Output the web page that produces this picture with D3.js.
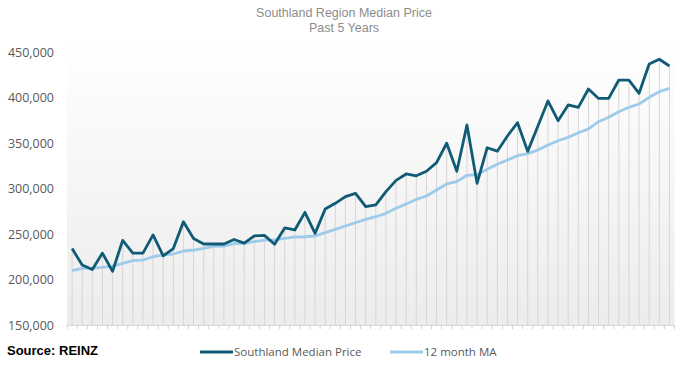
<!DOCTYPE html>
<html>
<head>
<meta charset="utf-8">
<style>
body { margin: 0; background: #fff; }
svg { display: block; }
.title { font: 12.5px "Liberation Sans", Arial, sans-serif; fill: #8c8c8c; }
.axis text { font: 12.5px "Open Sans", sans-serif; fill: #595959; }
.legend text { font: 11.5px "Open Sans", sans-serif; fill: #595959; }
</style>
</head>
<body>
<script src="https://cdn.jsdelivr.net/npm/d3@7/dist/d3.min.js"></script>
<script>
// monthly values, 60 months
const median = [234, 216, 211, 229, 209, 243, 229, 229, 249, 226,
                234, 263.5, 245, 239, 239, 239, 244, 240, 248, 248.5,
                238.7, 256.6, 254.4, 273.8, 250.7, 277.5, 283.7, 291, 294.7, 280,
                282, 296.5, 309, 316, 314, 319, 328.4, 349.7, 319, 369.8,
                305.7, 344.8, 341, 357.7, 372.3, 340.8, 368.3, 396.2, 374.5, 391.8,
                389.2, 409.3, 399, 399, 419.2, 419.2, 404.6, 436.8, 442, 434.6];
const movingAvg = [209.7, 212.3, 212.5, 213.4, 214.8, 217.8, 220.7, 221.4, 225, 227,
                   228, 231.3, 232.4, 234.3, 236.4, 236.8, 239.4, 239.8, 241.5, 243.2,
                   243.6, 245.2, 246.7, 247, 247.8, 251.5, 255.1, 258.8, 262.4, 266.1,
                   269, 272.7, 278.2, 283, 288.1, 291.8, 298.4, 305, 307.5, 314.5,
                   315.2, 321.1, 326.6, 331.3, 336, 338.3, 342.3, 347.8, 352.5, 356.2,
                   361.3, 365.4, 373.4, 378.2, 384.4, 389.2, 392.9, 400.2, 406.4, 410.1];
const yTicks = [150000, 200000, 250000, 300000, 350000, 400000, 450000];
const titleLines = ["Southland Region Median Price", "Past 5 Years"];
const seriesNames = ["Southland Median Price", "12 month MA"];

const W = 686, H = 367;
const plot = {left: 67, right: 674.5, top: 40, bottom: 325};

const svg = d3.select("body").append("svg")
    .attr("width", W)
    .attr("height", H);

const months = d3.range(median.length);

const x = d3.scaleBand()
    .domain(months)
    .range([plot.left, plot.right]);
const cx = i => x(i) + x.bandwidth() / 2;

const y = d3.scaleLinear()
    .domain([150000, 450000])
    .range([325, 52]);

// gradient background of plot area
const grad = svg.append("defs").append("linearGradient")
    .attr("id", "bg")
    .attr("x1", 0).attr("y1", 0).attr("x2", 0).attr("y2", 1);
grad.append("stop").attr("offset", "0%").attr("stop-color", "#ffffff");
grad.append("stop").attr("offset", "100%").attr("stop-color", "#ececec");

svg.append("rect")
    .attr("x", plot.left)
    .attr("y", plot.top)
    .attr("width", plot.right - plot.left)
    .attr("height", plot.bottom - plot.top)
    .attr("fill", "url(#bg)");

// title
svg.selectAll(".title").data(titleLines).enter()
    .append("text")
    .attr("class", "title")
    .attr("x", 344)
    .attr("y", (d, i) => 17 + i * 14.6)
    .attr("text-anchor", "middle")
    .text(d => d);

// drop lines
svg.append("g").selectAll("line").data(median).enter()
    .append("line")
    .attr("x1", (d, i) => cx(i))
    .attr("x2", (d, i) => cx(i))
    .attr("y1", d => y(d * 1000))
    .attr("y2", plot.bottom)
    .attr("stroke", "#d6d6d6")
    .attr("stroke-width", 1);

// x axis: line with ticks on category boundaries
const xa = svg.append("g").attr("class", "x axis");
xa.append("line")
    .attr("x1", plot.left).attr("x2", plot.right)
    .attr("y1", plot.bottom + 0.5).attr("y2", plot.bottom + 0.5)
    .attr("stroke", "#d9d9d9");
xa.selectAll(".tick").data(months.concat([median.length])).enter()
    .append("line")
    .attr("x1", i => i < median.length ? x(i) : plot.right)
    .attr("x2", i => i < median.length ? x(i) : plot.right)
    .attr("y1", plot.bottom)
    .attr("y2", plot.bottom + 4)
    .attr("stroke", "#d0d0d0");

// y axis labels only
const ya = svg.append("g")
    .attr("class", "axis")
    .attr("transform", `translate(${plot.left - 10},0)`)
    .call(d3.axisLeft(y).tickValues(yTicks).tickSize(0).tickFormat(d3.format(",")));
ya.select(".domain").remove();

// lines
const lineGen = d3.line()
    .x((d, i) => cx(i))
    .y(d => y(d * 1000));

svg.append("path")
    .datum(movingAvg)
    .attr("fill", "none")
    .attr("stroke", "#9dcbea")
    .attr("stroke-width", 2.8)
    .attr("stroke-linejoin", "round")
    .attr("d", lineGen);

svg.append("path")
    .datum(median)
    .attr("fill", "none")
    .attr("stroke", "#0f5b75")
    .attr("stroke-width", 2.8)
    .attr("stroke-linejoin", "round")
    .attr("d", lineGen);

// source
svg.append("text")
    .attr("x", 7)
    .attr("y", 355)
    .attr("font-family", "Liberation Sans, Arial, sans-serif")
    .attr("font-weight", "bold")
    .attr("font-size", 13)
    .attr("fill", "#000")
    .text("Source: REINZ");

// legend
const legend = svg.append("g").attr("class", "legend");
const legendItems = [
    {name: seriesNames[0], color: "#0f5b75", x: 200},
    {name: seriesNames[1], color: "#9dcbea", x: 390}
];
legendItems.forEach(it => {
    legend.append("line")
        .attr("x1", it.x).attr("x2", it.x + 33)
        .attr("y1", 352).attr("y2", 352)
        .attr("stroke", it.color)
        .attr("stroke-width", 2.8);
    legend.append("text")
        .attr("x", it.x + 34)
        .attr("y", 356)
        .text(it.name);
});
</script>
</body>
</html>
